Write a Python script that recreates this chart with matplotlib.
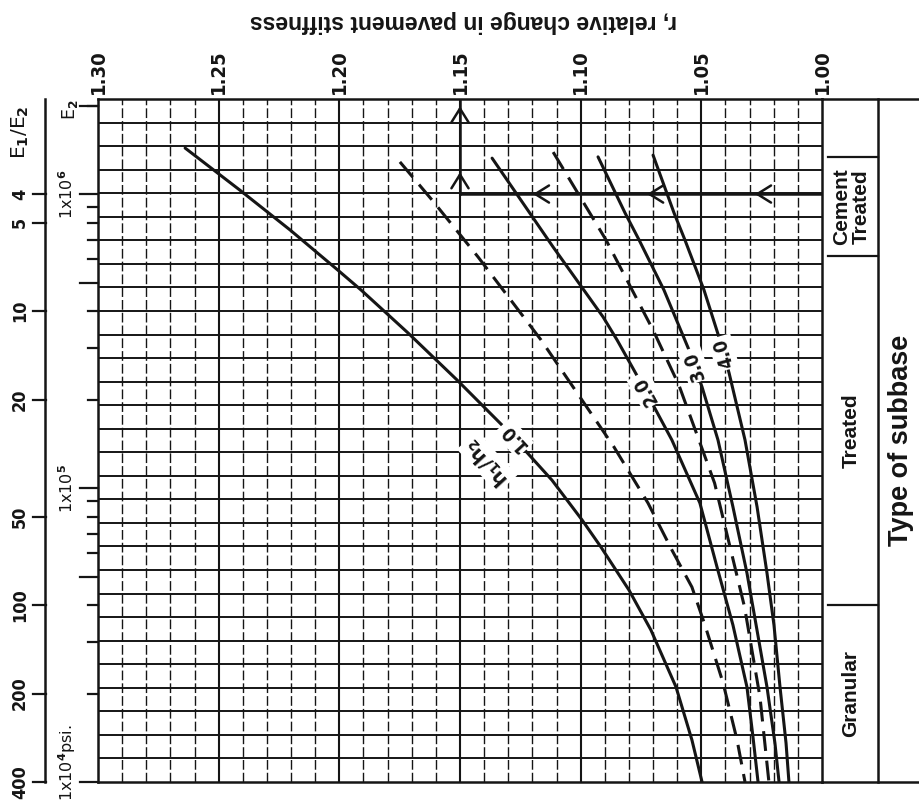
import numpy as np
import matplotlib
matplotlib.use("Agg")
import matplotlib.pyplot as plt
from matplotlib import transforms

plt.rcParams.update({
    "mathtext.fontset": "custom",
    "mathtext.rm": "DejaVu Sans:bold",
    "mathtext.it": "DejaVu Sans:bold",
    "mathtext.bf": "DejaVu Sans:bold",
    "mathtext.sf": "DejaVu Sans:bold",
})
NUMF = dict(family="DejaVu Sans", fontstretch="condensed", fontweight="bold")
WIDE = ["Liberation Sans", "DejaVu Sans"]
INK = "#151515"

# ---------------------------------------------------------------- data
# modular ratio E1/E2 along each h1/h2 curve and the stiffness ratio r
e_10 = [2.79, 3.88, 5.30, 7.26, 8.48, 11.88, 17.17, 24.8, 37.6, 51.4, 63.5, 88.9, 121.6, 190, 287.8, 400]
r_10 = [1.2639, 1.2412, 1.2204, 1.2006, 1.1910, 1.1715, 1.1512, 1.1318, 1.1119, 1.0994, 1.0916, 1.0800, 1.0709, 1.0605, 1.0539, 1.0497]

e_15 = [3.11, 4.19, 6.55, 12.55, 29.0, 45.0, 65.0, 86.9, 117, 184, 287.8, 400]
r_15 = [1.1749, 1.1616, 1.1425, 1.1164, 1.0862, 1.0721, 1.0622, 1.0539, 1.0485, 1.0410, 1.0352, 1.0319]

e_20 = [3.02, 6.06, 10.48, 12.55, 18.57, 27.46, 45.0, 74.3, 117, 190, 281, 400]
r_20 = [1.1367, 1.1114, 1.0907, 1.0849, 1.0733, 1.0622, 1.0506, 1.0435, 1.0369, 1.0311, 1.0286, 1.0265]

e_25 = [2.88, 5.73, 11.61, 17.86, 27.46, 38.5, 55.6, 101.6, 205.6, 400]
r_25 = [1.1114, 1.0895, 1.0700, 1.0593, 1.0510, 1.0445, 1.0398, 1.0321, 1.0257, 1.0220]

e_30 = [2.99, 4.64, 5.73, 8.48, 13.57, 18.14, 27.46, 46.4, 77.8, 117, 190, 295, 400]
r_30 = [1.0928, 1.0816, 1.0758, 1.0655, 1.0551, 1.0497, 1.0431, 1.0369, 1.0311, 1.0273, 1.0228, 1.0195, 1.0178]

e_40 = [2.95, 4.64, 5.73, 8.48, 12.26, 16.25, 27.46, 46.4, 77.8, 117, 190, 295, 400]
r_40 = [1.0700, 1.0613, 1.0568, 1.0489, 1.0427, 1.0385, 1.0319, 1.0269, 1.0228, 1.0199, 1.0174, 1.0149, 1.0137]

h_labels = ["1.0", "1.5", "2.0", "2.5", "3.0", "4.0"]
curve_e = [e_10, e_15, e_20, e_25, e_30, e_40]
curve_r = [r_10, r_15, r_20, r_25, r_30, r_40]
curve_dashed = [False, True, False, True, False, False]
# E1/E2 at which the written h1/h2 value sits on its curve
label_at = {"1.0": 27.0, "2.0": 18.6, "3.0": 15.3, "4.0": 13.9}

# stiffness-ratio scale
r_ticks = [1.30, 1.25, 1.20, 1.15, 1.10, 1.05, 1.00]
r_tick_labels = ["1.30", "1.25", "1.20", "1.15", "1.10", "1.05", "1.00"]

# modular-ratio scale
ratio_ticks = [4, 5, 10, 20, 50, 100, 200, 400]
ratio_tick_labels = ["4", "5", "10", "20", "50", "100", "200", "400"]

# subbase modulus scale (psi) tied to the ratio scale through E1
e1_psi = 4.0e6
e2_decades = [1e4, 1e5, 1e6]
e2_decade_labels = [r"1x10$^{4}$psi.", r"1x10$^{5}$", r"1x10$^{6}$"]

# type of subbase, bounded by E1/E2
subbase_names = ["Cement\nTreated", "Treated", "Granular"]
subbase_bounds = [3.0, 6.5, 100.0, 400.0]

# worked example: enter at E1/E2 = 4, read r = 1.15
example_ratio = 4.0
example_r = 1.15
example_left_arrows = [1.1198, 1.0725, 1.0278]
example_up_arrows = [3.37, 2.01]

# ---------------------------------------------------------------- layout
W, H = 919, 808
X0, X1 = 98, 822
Y0, Y1 = 99, 782
fig = plt.figure(figsize=(W / 100, H / 100), dpi=100)
fig.patch.set_facecolor("white")
ax = fig.add_axes([X0 / W, 1 - Y1 / H, (X1 - X0) / W, (Y1 - Y0) / H])
ax.set_yscale("log")
ax.set_xlim(1.30, 1.00)
ax.set_ylim(400, 1.9)
ax.set_xticks([])
ax.set_yticks([])
ax.minorticks_off()
for s in ax.spines.values():
    s.set_linewidth(1.8)
    s.set_color(INK)


def fx(px):
    return (px - X0) / (X1 - X0)


def fy(py):
    return (Y1 - py) / (Y1 - Y0)


xa_yd = transforms.blended_transform_factory(ax.transAxes, ax.transData)
xd_ya = transforms.blended_transform_factory(ax.transData, ax.transAxes)

# grid: evenly spaced horizontal rules, verticals every 0.01 in r
for k in range(1, 29):
    ax.plot([0, 1], [k / 29, k / 29], transform=ax.transAxes, color=INK,
            lw=1.4, zorder=1, solid_capstyle="butt")
for i in range(1, 30):
    rv = 1.00 + i * 0.01
    if i % 5 == 0:
        ax.axvline(rv, color=INK, lw=1.5, zorder=1)
    else:
        ax.axvline(rv, color=INK, lw=1.0, zorder=1, dashes=(7, 2.2))

# curves
for lab, es, rs, dashed in zip(h_labels, curve_e, curve_r, curve_dashed):
    kw = dict(color=INK, lw=2.2, zorder=3, solid_capstyle="round",
              solid_joinstyle="round")
    if dashed:
        kw["dashes"] = (6.5, 3.2)
        kw["dash_capstyle"] = "butt"
    ax.plot(rs, es, **kw)


def screen_angle(es, rs, at):
    le = np.log10(es)
    a, b = at / 1.12, at * 1.12
    ra = np.interp(np.log10(a), le, rs)
    rb = np.interp(np.log10(b), le, rs)
    p1 = ax.transData.transform((ra, a))
    p2 = ax.transData.transform((rb, b))
    return np.degrees(np.arctan2(p2[1] - p1[1], p2[0] - p1[0]))


box = dict(boxstyle="square,pad=0.12", fc="white", ec="none")
for lab, es, rs in zip(h_labels, curve_e, curve_r):
    if lab not in label_at:
        continue
    at = label_at[lab]
    rr = np.interp(np.log10(at), np.log10(es), rs)
    rot = screen_angle(es, rs, at) + 180
    ax.text(rr, at, lab, rotation=rot, rotation_mode="anchor", ha="center",
            va="center", fontsize=13.5, color=INK, zorder=5, bbox=box, **NUMF)
    if lab == "1.0":
        up = np.radians(rot + 90)
        ax.annotate(r"$h_1/h_2$", xy=(rr, at), xytext=(26 * np.cos(up), 26 * np.sin(up)),
                    textcoords="offset points", rotation=rot, rotation_mode="anchor",
                    ha="center", va="center", fontsize=14, color=INK, zorder=5,
                    bbox=box)

# worked example path with arrowheads
ax.plot([1.00, example_r], [example_ratio, example_ratio], color=INK, lw=1.8, zorder=4)
ax.plot([example_r, example_r], [example_ratio, 1.9], color=INK, lw=1.8, zorder=4)
head = dict(arrowstyle="->,head_length=0.45,head_width=0.28", lw=1.8, color=INK,
            mutation_scale=22, shrinkA=0, shrinkB=0)
for rv in example_left_arrows:
    ax.annotate("", xy=(rv, example_ratio), xytext=(rv - 0.003, example_ratio),
                arrowprops=head, zorder=6)
for ev in example_up_arrows:
    ax.annotate("", xy=(example_r, ev), xytext=(example_r, ev * 1.06),
                arrowprops=head, zorder=6)

# r labels along the top
for rv, t in zip(r_ticks, r_tick_labels):
    ax.text(rv, fy(72), t, transform=xd_ya, rotation=90, ha="center", va="center",
            fontsize=14.5, color=INK, **NUMF)
fig.text(463 / W, 1 - 22 / H, "r, relative change in pavement stiffness",
         rotation=180, ha="center", va="center", fontsize=16.5, fontweight="bold",
         family=WIDE, color=INK)

# outer E1/E2 scale
ax.plot([fx(45), fx(45)], [0, 1], transform=ax.transAxes, color=INK, lw=1.8,
        clip_on=False)
for v, t in zip(ratio_ticks, ratio_tick_labels):
    ax.plot([fx(33), fx(46)], [v, v], transform=xa_yd, color=INK, lw=1.6, clip_on=False)
    ax.text(fx(20), v, t, transform=xa_yd, rotation=90, ha="center", va="center",
            fontsize=13, color=INK, **NUMF)
ax.text(fx(20), fy(132), r"E$_1$/E$_2$", transform=ax.transAxes, rotation=90,
        ha="center", va="center", fontsize=14.5, color=INK)

# inner E2 scale (psi)
for dec in e2_decades:
    for m in range(1, 10):
        e2 = m * dec
        if e2 > 2.0e6:
            continue
        v = e1_psi / e2
        x_start = fx(80) if m in (1, 5) else fx(88)
        ax.plot([x_start, 0], [v, v], transform=xa_yd, color=INK, lw=1.6, clip_on=False)
ax.plot([fx(80), 0], [e1_psi / 2.0e6] * 2, transform=xa_yd, color=INK, lw=1.6,
        clip_on=False)
for dec, t in zip(e2_decades, e2_decade_labels):
    v = e1_psi / dec
    ypos = v if dec > 1e4 else v / 1.16
    ax.text(fx(67), ypos, t, transform=xa_yd, rotation=90, ha="center", va="center",
            fontsize=11.5, color=INK)
ax.text(fx(70), fy(110), r"E$_2$", transform=ax.transAxes, rotation=90,
        ha="center", va="center", fontsize=12.5, color=INK)

# type-of-subbase columns on the right
for yf in (0, 1):
    ax.plot([1, 1.14], [yf, yf], transform=ax.transAxes, color=INK, lw=1.8,
            clip_on=False)
ax.plot([fx(878), fx(878)], [0, 1], transform=ax.transAxes, color=INK, lw=1.8,
        clip_on=False)
for v in subbase_bounds[:3]:
    ax.plot([fx(828), fx(878)], [v, v], transform=xa_yd, color=INK, lw=1.6,
            clip_on=False)
for name, lo, hi in zip(subbase_names, subbase_bounds[:-1], subbase_bounds[1:]):
    mid = np.sqrt(lo * hi)
    ax.text(fx(851), mid, name, transform=xa_yd, rotation=90, ha="center",
            va="center", multialignment="center", linespacing=1.05,
            fontsize=15, fontweight="bold", family=WIDE, color=INK)
ax.text(fx(901), 0.5, "Type of subbase", transform=ax.transAxes, rotation=90,
        ha="center", va="center", fontsize=19.5, fontweight="bold", family=WIDE,
        color=INK)

fig.savefig("out.png", dpi=100, facecolor="white")
